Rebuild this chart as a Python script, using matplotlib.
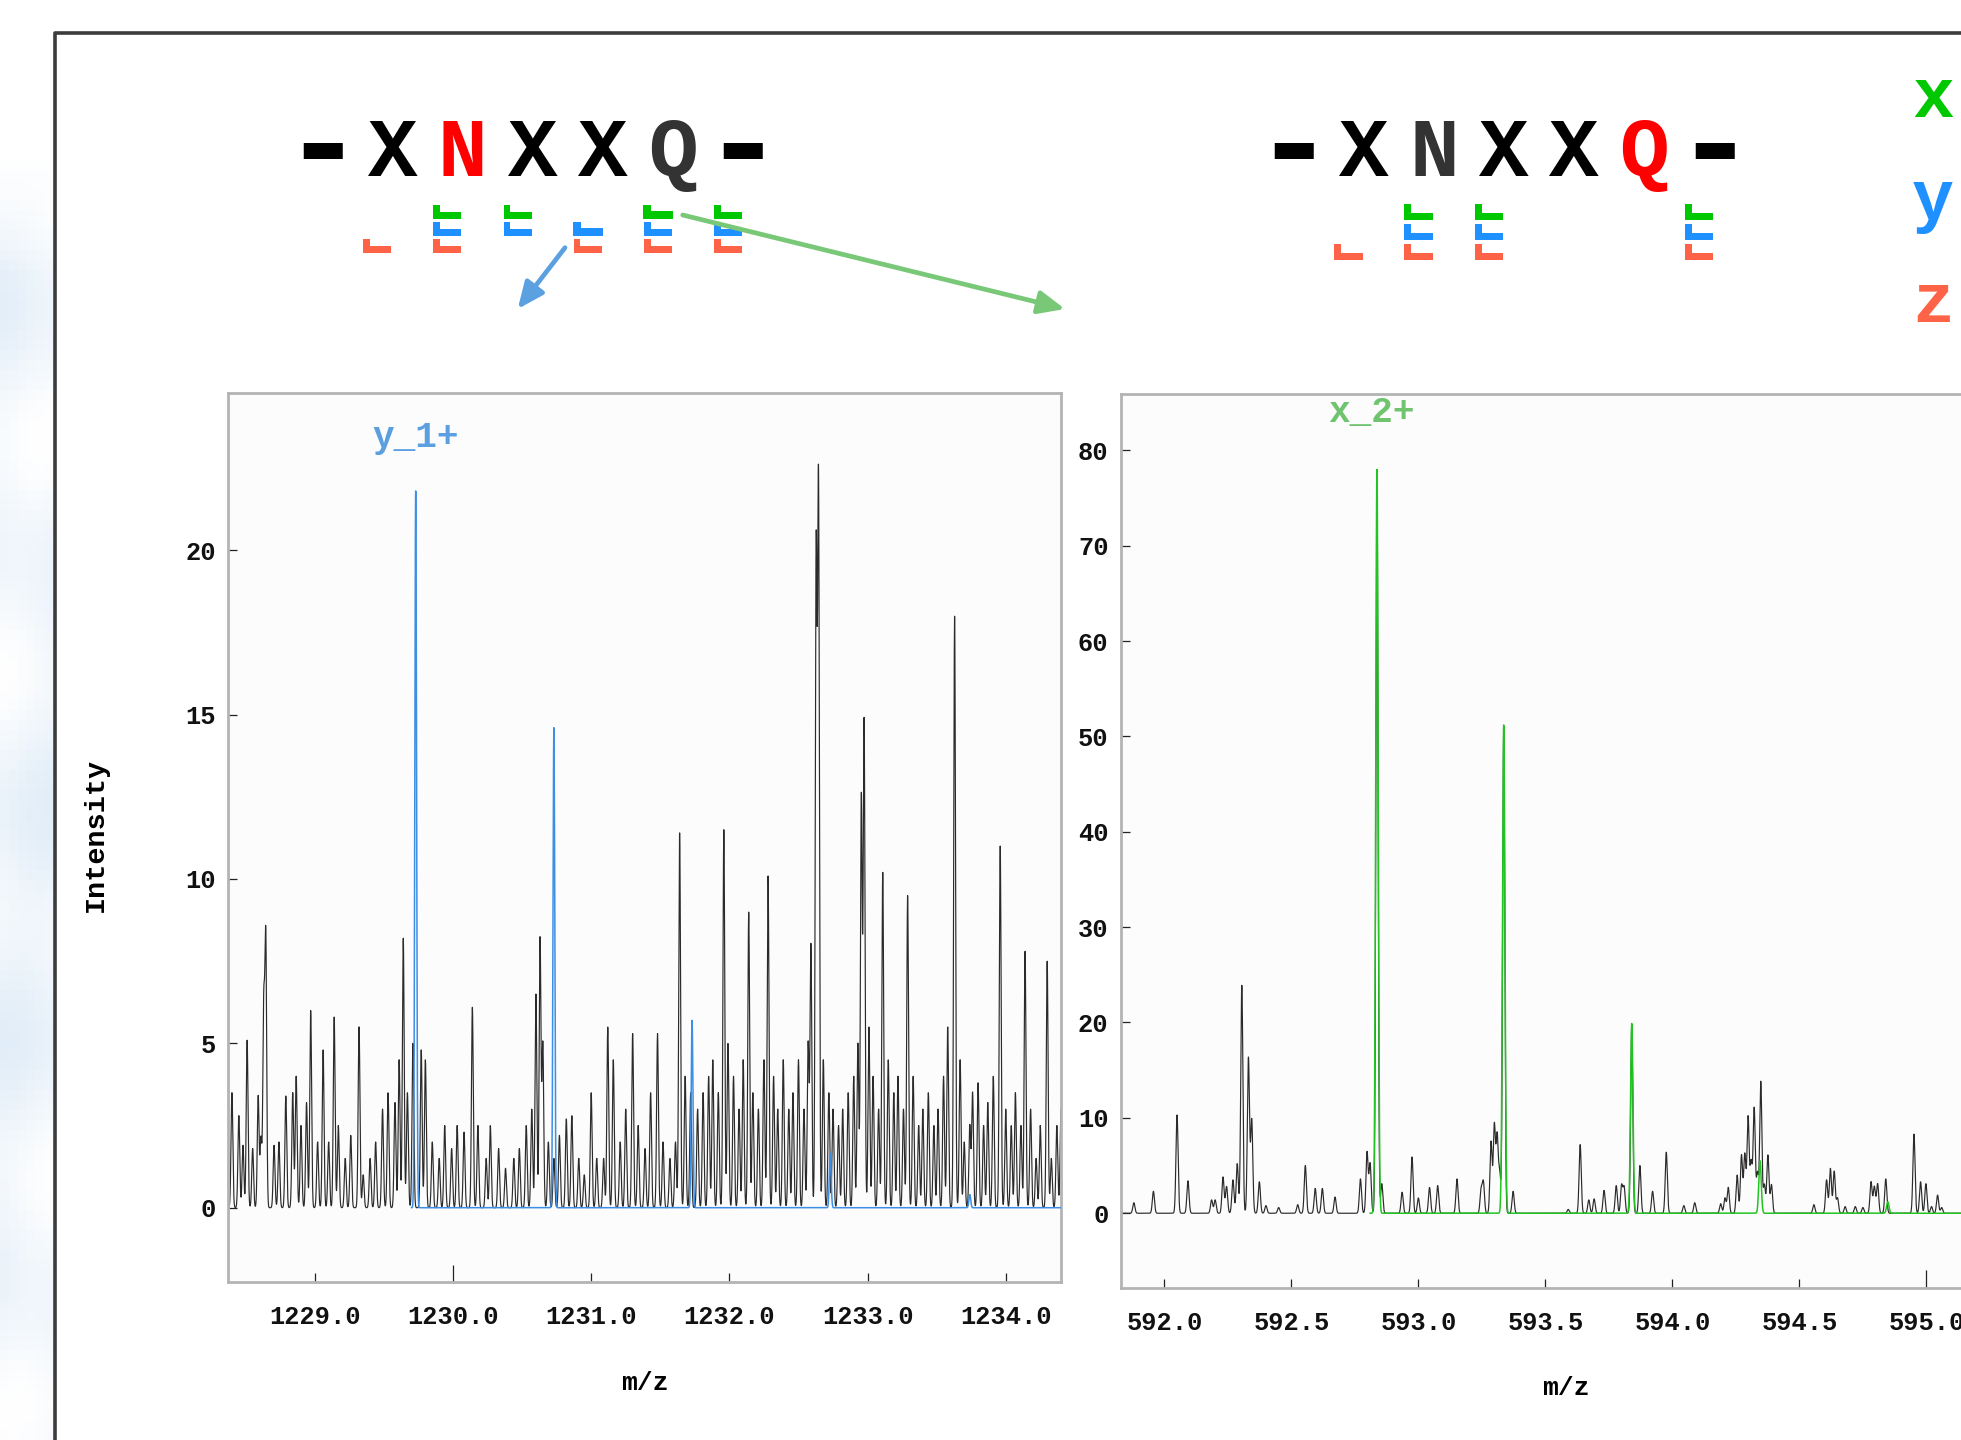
import numpy as np
import matplotlib
matplotlib.use("Agg")
import matplotlib.pyplot as plt
from matplotlib.lines import Line2D
from matplotlib.patches import Polygon, FancyArrowPatch
from matplotlib.textpath import TextPath
from matplotlib.font_manager import FontProperties

W, H, DPI = 1961, 1440, 100
plt.rcParams['font.family'] = ['Liberation Mono', 'DejaVu Sans']

# ---------------- data ----------------
left_sequence = ['-', 'X', 'N', 'X', 'X', 'Q', '-']
left_seq_colors = ['#000000', '#000000', '#ff0000', '#000000', '#000000', '#333333', '#000000']
right_sequence = ['-', 'X', 'N', 'X', 'X', 'Q', '-']
right_seq_colors = ['#000000', '#000000', '#333333', '#000000', '#000000', '#ff0000', '#000000']

ion_letters = ['x', 'y', 'z']
ion_colors = ['#00c800', '#1e90ff', '#ff6347']
# fragment marks below each residue position (index into sequence)
left_marks = {1: 'z', 2: 'xyz', 3: 'xy', 4: 'yz', 5: 'xyz', 6: 'xyz'}
left_bold = [(4, 'y'), (5, 'x')]
right_marks = {1: 'z', 2: 'xyz', 3: 'xyz', 6: 'xyz'}

# left spectrum (m/z, intensity)
left_mz = [1228.40, 1228.45, 1228.48, 1228.51, 1228.55, 1228.59, 1228.61, 1228.63, 1228.645,
           1228.705, 1228.74, 1228.79, 1228.84, 1228.865, 1228.90, 1228.94, 1228.97, 1229.02,
           1229.06, 1229.10, 1229.14, 1229.17, 1229.22, 1229.26, 1229.32, 1229.35, 1229.40,
           1229.44, 1229.49, 1229.53, 1229.58, 1229.61, 1229.64, 1229.67, 1229.71, 1229.77,
           1229.80, 1229.85, 1229.90, 1229.94, 1229.99, 1230.03, 1230.08, 1230.14, 1230.18,
           1230.24, 1230.27, 1230.33, 1230.38, 1230.44, 1230.48, 1230.53, 1230.57, 1230.60,
           1230.63, 1230.65, 1230.69, 1230.73, 1230.77, 1230.82, 1230.86, 1230.91, 1230.95,
           1231.00, 1231.04, 1231.09, 1231.12, 1231.16, 1231.21, 1231.25, 1231.30, 1231.34,
           1231.39, 1231.43, 1231.48, 1231.52, 1231.57, 1231.61, 1231.64, 1231.68, 1231.72,
           1231.77, 1231.81, 1231.85, 1231.88, 1231.92, 1231.96, 1231.99, 1232.03, 1232.07,
           1232.10, 1232.14, 1232.17, 1232.21, 1232.25, 1232.28, 1232.32, 1232.35, 1232.39,
           1232.43, 1232.46, 1232.50, 1232.54, 1232.57, 1232.59, 1232.628, 1232.645, 1232.68,
           1232.72, 1232.75, 1232.79, 1232.82, 1232.86, 1232.90, 1232.93, 1232.955, 1232.975,
           1233.01, 1233.04, 1233.08, 1233.11, 1233.15, 1233.19, 1233.22, 1233.26, 1233.29,
           1233.33, 1233.37, 1233.40, 1233.44, 1233.48, 1233.51, 1233.55, 1233.58, 1233.63,
           1233.67, 1233.70, 1233.74, 1233.76, 1233.80, 1233.84, 1233.87, 1233.91, 1233.96,
           1234.00, 1234.04, 1234.07, 1234.11, 1234.14, 1234.18, 1234.22, 1234.25, 1234.30,
           1234.33, 1234.37, 1234.40]
left_int = [3.5, 2.8, 1.9, 5.1, 1.8, 3.4, 2.1, 6.0, 8.1,
            1.9, 2.0, 3.4, 3.5, 4.0, 2.5, 3.2, 6.0, 2.0,
            4.8, 2.0, 5.8, 2.5, 1.5, 2.2, 5.5, 1.0, 1.5,
            2.0, 3.0, 3.5, 3.2, 4.5, 8.2, 3.5, 5.0, 4.8,
            4.5, 2.0, 1.5, 2.5, 1.8, 2.5, 2.3, 6.1, 2.5,
            1.5, 2.5, 1.8, 1.2, 1.5, 1.8, 2.5, 3.0, 6.5,
            8.2, 5.0, 2.0, 1.5, 2.2, 2.7, 2.8, 1.5, 1.0,
            3.5, 1.5, 1.5, 5.5, 4.5, 2.0, 3.0, 5.3, 2.5,
            1.8, 3.5, 5.3, 2.0, 1.5, 2.0, 11.4, 4.0, 3.5,
            3.0, 3.5, 4.0, 4.5, 3.5, 11.5, 5.0, 4.0, 3.0,
            4.5, 9.0, 3.5, 3.0, 4.5, 10.1, 4.0, 3.0, 4.5,
            3.0, 3.5, 4.5, 3.0, 5.0, 8.0, 19.8, 21.9, 4.5,
            3.5, 3.0, 2.5, 3.0, 3.5, 4.0, 5.0, 12.5, 14.8,
            5.5, 4.0, 3.0, 10.2, 4.5, 3.5, 4.0, 3.0, 9.5,
            4.0, 2.5, 3.0, 3.5, 2.5, 3.0, 4.0, 5.5, 18.0,
            4.5, 2.0, 2.5, 3.5, 3.8, 2.5, 3.2, 4.0, 11.0,
            3.0, 2.5, 3.5, 2.5, 7.8, 3.0, 1.5, 2.5, 7.5,
            1.5, 2.5, 3.0]
# y_1+ isotope envelope
y1_mz = [1229.73, 1230.73, 1231.73, 1232.73, 1233.74]
y1_int = [21.8, 14.6, 5.7, 1.65, 0.4]

# right spectrum
right_mz = [591.82, 591.88, 591.957, 592.05, 592.093, 592.186, 592.20, 592.231, 592.245,
            592.27, 592.287, 592.305, 592.331, 592.344, 592.374, 592.40, 592.45, 592.525,
            592.555, 592.594, 592.622, 592.672, 592.772, 592.798, 592.81, 592.837, 592.856,
            592.936, 592.975, 593.0, 593.044, 593.076, 593.152, 593.247, 593.256, 593.286,
            593.299, 593.31, 593.32, 593.336, 593.373, 593.59, 593.637, 593.671, 593.692,
            593.731, 593.779, 593.80, 593.81, 593.84, 593.872, 593.922, 593.976, 594.045,
            594.088, 594.19, 594.207, 594.22, 594.255, 594.272, 594.285, 594.298, 594.31,
            594.322, 594.335, 594.348, 594.362, 594.376, 594.39, 594.557, 594.607, 594.622,
            594.637, 594.65, 594.68, 594.72, 594.75, 594.782, 594.795, 594.808, 594.84,
            594.951, 594.977, 594.998, 595.02, 595.044, 595.06]
right_int = [11.0, 1.1, 2.3, 10.3, 3.4, 1.4, 1.4, 3.8, 2.8,
             3.5, 5.2, 23.9, 16.3, 9.8, 3.3, 0.8, 0.6, 0.9,
             5.0, 2.6, 2.6, 1.7, 3.6, 6.4, 5.2, 77.0, 3.1,
             2.2, 5.9, 1.6, 2.7, 2.9, 3.6, 2.4, 3.2, 7.5,
             9.2, 8.0, 4.2, 50.5, 2.3, 0.4, 7.2, 1.4, 1.5,
             2.4, 2.9, 2.9, 2.7, 19.5, 5.0, 2.3, 6.4, 0.8,
             1.1, 1.0, 1.6, 2.7, 4.0, 6.1, 6.2, 10.1, 5.3,
             11.0, 4.2, 13.8, 3.0, 6.1, 3.0, 0.9, 3.5, 4.7,
             4.4, 1.6, 0.7, 0.7, 0.6, 3.3, 2.8, 3.1, 3.6,
             8.3, 3.3, 3.1, 0.7, 1.9, 0.6]
# x_2+ isotope envelope
x2_mz = [592.837, 593.336, 593.840, 594.345, 594.848]
x2_int = [78.0, 51.2, 19.9, 5.5, 1.2]

left_xticks = [1229.0, 1230.0, 1231.0, 1232.0, 1233.0, 1234.0]
left_yticks = [0, 5, 10, 15, 20]
right_xticks = [592.0, 592.5, 593.0, 593.5, 594.0, 594.5, 595.0]
right_yticks = [0, 10, 20, 30, 40, 50, 60, 70, 80]


# ---------------- helpers ----------------
def fx(x):
    return x / W


def fy(y):
    return 1 - y / H


def profile(grid, centers, heights, sigma):
    c = np.asarray(centers)[:, None]
    h = np.asarray(heights)[:, None]
    return (h * np.exp(-0.5 * ((grid[None, :] - c) / sigma) ** 2)).sum(0)


fp_bold = FontProperties(family='Liberation Mono', weight='bold')


def glyph_ext(ch):
    return TextPath((0, 0), ch, size=100, prop=fp_bold).get_extents()


def size_for(px, ch):
    return px / (DPI / 72.0 * glyph_ext(ch).height / 100.0)


fig = plt.figure(figsize=(W / DPI, H / DPI), dpi=DPI, facecolor='white')

# decorative background strip on the left
bg = fig.add_axes([0, 0, 53 / W, 1], zorder=-5)
yy, xx = np.mgrid[0:H:10, 0:60:10].astype(float)
v = 0.5 + 0.5 * np.sin((xx * 0.8 + yy) / 60.0) * np.cos((yy - 2 * xx) / 110.0)
v = v * np.clip((yy - 150) / 120.0, 0, 1)
a = 0.38 * v
base = np.array([0.70, 0.82, 0.93])
img = (1 - a[..., None]) * 1.0 + a[..., None] * base
bg.imshow(img, aspect='auto', interpolation='nearest', extent=[0, 1, 0, 1], origin='upper')
bg.axis('off')

# outer frame
fig.add_artist(Line2D([fx(55), fx(55), 1.0], [0.0, fy(33), fy(33)], transform=fig.transFigure,
                      color='#3c3c3c', lw=2.6, solid_capstyle='projecting', zorder=1))

# ---------------- sequences ----------------
fs_seq = size_for(54.5, 'X')
dash_ext = glyph_ext('-')
fs_dash = 39.0 / (DPI / 72.0 * dash_ext.width / 100.0)
dash_mid = (dash_ext.y0 + dash_ext.y1) / 2 / 100.0 * fs_dash * DPI / 72.0
pitch = 70.13
for start, seq, cols in [(322.2, left_sequence, left_seq_colors),
                         (1293.7, right_sequence, right_seq_colors)]:
    for i, (ch, c) in enumerate(zip(seq, cols)):
        if ch == '-':
            fig.text(fx(start + i * pitch), fy(150.0 + dash_mid), ch, color=c, fontsize=fs_dash,
                     fontweight='bold', ha='center', va='baseline')
        else:
            fig.text(fx(start + i * pitch), fy(176.5), ch, color=c, fontsize=fs_seq,
                     fontweight='bold', ha='center', va='baseline')


def draw_L(xl, yt, w, h, t, color):
    pts = [(xl, yt), (xl + t, yt), (xl + t, yt + h - t), (xl + w, yt + h - t),
           (xl + w, yt + h), (xl, yt + h)]
    fig.add_artist(Polygon([(fx(px), fy(py)) for px, py in pts], closed=True,
                           transform=fig.transFigure, facecolor=color, edgecolor='none'))


# left marks
row_top_left = {'x': 205.0, 'y': 222.0, 'z': 239.3}
for pos, ions in left_marks.items():
    xc = 322.2 + pos * pitch
    for ion in ions:
        col = ion_colors[ion_letters.index(ion)]
        if (pos, ion) in left_bold:
            draw_L(xc - 30, row_top_left[ion] - 0.5, 30, 14.7, 8.0, col)
        else:
            draw_L(xc - 29, row_top_left[ion], 28, 13.5, 6.7, col)
row_top_right = {'x': 204.3, 'y': 224.0, 'z': 244.3}
for pos, ions in right_marks.items():
    xc = 1293.7 + pos * pitch
    for ion in ions:
        col = ion_colors[ion_letters.index(ion)]
        draw_L(xc - 29.5, row_top_right[ion], 28.3, 15.7, 7.0, col)

# arrows
for (x0, y0), (x1, y1), c in [((565, 247.7), (517.7, 309), '#5ba0e0'),
                               ((682.7, 215), (1065, 309), '#78c878')]:
    fig.add_artist(FancyArrowPatch((fx(x0), fy(y0)), (fx(x1), fy(y1)), transform=fig.transFigure,
                                   arrowstyle='-|>,head_length=0.8,head_width=0.35',
                                   mutation_scale=20, lw=3.4, color=c,
                                   shrinkA=0, shrinkB=0))

# ion legend letters at right edge
fs_ion = size_for(37, 'x')
for ch, c, yb in zip(ion_letters, ion_colors, [116.7, 218.7, 321.7]):
    fig.text(fx(1912), fy(yb), ch, color=c, fontsize=fs_ion, fontweight='bold',
             ha='left', va='baseline')

# ---------------- panels ----------------
spine_c = '#b4b4b4'


def style_axes(ax):
    ax.set_facecolor('#fcfcfc')
    for s in ax.spines.values():
        s.set_color(spine_c)
        s.set_linewidth(2.0)
    ax.tick_params(axis='both', direction='in', length=6.5, width=0.9, color='#222222',
                   labelsize=18.3, labelcolor='#111111', top=False, right=False)
    ax.tick_params(axis='y', pad=9.0)
    ax.tick_params(axis='x', pad=16.5)
    for lab in ax.get_xticklabels() + ax.get_yticklabels():
        lab.set_fontweight('bold')


ax1 = fig.add_axes([fx(228.2), fy(1281.7), (1061 - 228.2) / W, (1281.7 - 392.7) / H])
ax2 = fig.add_axes([fx(1120.9), fy(1288.3), (2011 - 1120.9) / W, (1288.3 - 394) / H])

# left panel
xl1 = (1228.373, 1234.40)
g1 = np.linspace(xl1[0], xl1[1], 9000)
ax1.plot(g1, profile(g1, left_mz, left_int, 0.0065), color='#2b2b2b', lw=0.85, zorder=2)
gb = np.linspace(1229.70, xl1[1], 8000)
ax1.plot(gb, profile(gb, y1_mz, y1_int, 0.0065), color='#3d8fe6', lw=1.1, zorder=3)
ax1.set_xlim(*xl1)
ax1.set_ylim(-2.25, 24.79)
ax1.set_xticks(left_xticks)
ax1.set_xticklabels(['%.1f' % t for t in left_xticks])
ax1.set_yticks(left_yticks)
ax1.set_yticklabels([str(t) for t in left_yticks])
style_axes(ax1)
ax1.xaxis.get_major_ticks()[1].tick1line.set_markersize(12.5)
ax1.text(y1_mz[0], 23.14, 'y_1+', color='#5b9fe0', fontsize=26, fontweight='bold',
         ha='center', va='baseline')
ax1.set_xlabel('m/z', fontsize=19, fontweight='bold', va='center')
ax1.xaxis.set_label_coords(0.5, -0.1136)
ax1.set_ylabel('Intensity', fontsize=20.5, fontweight='bold', va='center', ha='center')
ax1.yaxis.set_label_coords(-0.1585, 0.5025)

# right panel
xl2 = (591.829, 595.333)
g2 = np.linspace(xl2[0], xl2[1], 14000)
ax2.plot(g2, profile(g2, right_mz, right_int, 0.0042), color='#2b2b2b', lw=0.85, zorder=2)
gg = np.linspace(592.81, xl2[1], 12000)
ax2.plot(gg, profile(gg, x2_mz, x2_int, 0.0048), color='#22c322', lw=1.1, zorder=3)
ax2.set_xlim(*xl2)
ax2.set_ylim(-7.87, 85.9)
ax2.set_xticks(right_xticks)
ax2.set_xticklabels(['%.1f' % t for t in right_xticks])
ax2.set_yticks(right_yticks)
ax2.set_yticklabels([str(t) for t in right_yticks])
style_axes(ax2)
ax2.xaxis.get_major_ticks()[6].tick1line.set_markersize(13)
ax2.text(x2_mz[0] - 0.023, 82.96, 'x_2+', color='#70c470', fontsize=26, fontweight='bold',
         ha='center', va='baseline')
ax2.set_xlabel('m/z', fontsize=19, fontweight='bold', va='center')
ax2.xaxis.set_label_coords(0.5, -0.1115)

fig.savefig('out.png', dpi=DPI, facecolor='white')
